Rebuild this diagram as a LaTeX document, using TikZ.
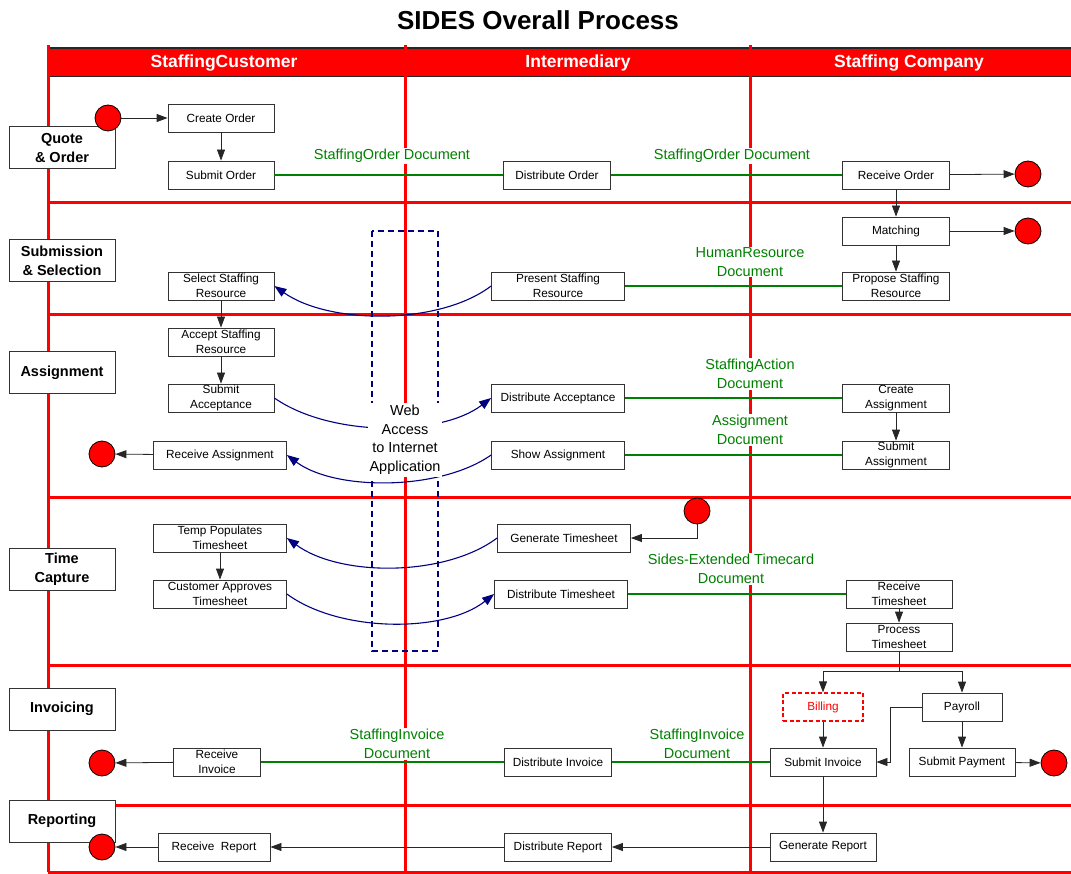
\documentclass[tikz,border=0pt]{standalone}
\usepackage{fontspec}
\setmainfont{Liberation Sans}
\usetikzlibrary{arrows.meta}

\definecolor{lanered}{RGB}{255,0,0}
\definecolor{docgreen}{RGB}{0,128,0}
\definecolor{webblue}{RGB}{0,0,128}

\tikzset{
  procbox/.style={rectangle,draw=black!80,fill=white,line width=0.8pt,align=center,
    inner sep=0pt,minimum height=28pt,minimum width=106pt,
    font=\fontsize{11.8}{14.5}\selectfont},
  wide/.style={minimum width=133pt},
  endpt/.style={circle,draw=black,fill=lanered,line width=0.8pt,minimum size=26pt,inner sep=0pt},
  phase/.style={rectangle,draw=black!80,fill=white,line width=1pt,align=center,
    minimum width=106pt,minimum height=42pt,inner sep=0pt,
    font=\fontsize{14.5}{18.5}\selectfont\bfseries},
  doclabel/.style={text=docgreen,fill=white,align=center,inner sep=1pt,
    font=\fontsize{14.5}{18.5}\selectfont}
}

\begin{document}
\begin{tikzpicture}[x=1pt,y=-1pt,>={Triangle[length=11pt,width=8pt]}]
\useasboundingbox (0,0) rectangle (1071,874);

% title, header band and lanes
\node (title) at (538,20) {\fontsize{26}{30}\selectfont\bfseries SIDES Overall Process};
\fill[lanered] (47,48) rectangle (1071,76);
\draw[line width=1.5pt,black!85] (47,48) -- (1071,48);
\draw[line width=0.8pt,black!85] (47,76) -- (1071,76);
\foreach \x in {48,405,750} \draw[lanered,line width=3pt] (\x,45) -- (\x,872);
\foreach \y in {203,315,497,665,805,872} \draw[lanered,line width=3pt] (48,\y) -- (1071,\y);

\begin{scope}[every node/.style={text=white,font=\fontsize{17.5}{20}\selectfont\bfseries}]
    \node (cust) at (224,63) {StaffingCustomer};
    \node (inter) at (578,63) {Intermediary};
    \node (comp) at (909,63) {Staffing Company};
\end{scope}

\draw[webblue,line width=1.3pt,dash pattern=on 6pt off 4pt] (372,231) rectangle (438,651);

% document labels
\begin{scope}[every node/.style={doclabel}]
    \node (lorder1) at (392,156) {StaffingOrder Document};
    \node (lorder2) at (732,156) {StaffingOrder Document};
    \node (lhr) at (750,262) {HumanResource\\Document};
    \node (laction) at (750,374) {StaffingAction\\Document};
    \node (lassign) at (750,430) {Assignment\\Document};
    \node (ltime) at (731,569) {Sides-Extended Timecard\\Document};
    \node (linv1) at (397,744) {StaffingInvoice\\Document};
    \node (linv2) at (697,744) {StaffingInvoice\\Document};
\end{scope}

% phases
\begin{scope}[every node/.style={phase}]
    \node (quote) at (62,148) {Quote\\\& Order};
    \node (subm) at (62,261) {Submission\\\& Selection};
    \node (asgn) at (62,373) {Assignment};
    \node (time) at (62,569) {Time\\Capture};
    \node (invc) at (62,709) {Invoicing};
    \node (rept) at (62,821) {Reporting};
\end{scope}

% activities
\begin{scope}[every node/.style={procbox}]
    \node (create) at (221,118) {Create Order};
    \node (submit) at (221,175) {Submit Order};
    \node (select) at (221,286) {Select Staffing\\Resource};
    \node (accept) at (221,342) {Accept Staffing\\Resource};
    \node (subacc) at (221,398) {Submit\\Acceptance};
    \node[wide] (recasg) at (220,455) {Receive Assignment};
    \node[wide] (temp) at (220,538) {Temp Populates\\Timesheet};
    \node[wide] (approve) at (220,594) {Customer Approves\\Timesheet};
    \node[minimum width=87pt] (recinv) at (217,762) {Receive\\Invoice};
    \node[minimum width=112pt] (recrep) at (214,847) {Receive~~Report};

    \node[minimum width=107pt] (distord) at (557,175) {Distribute Order};
    \node[wide] (present) at (558,286) {Present Staffing\\Resource};
    \node[wide] (distacc) at (558,398) {Distribute Acceptance};
    \node[wide] (showasg) at (558,455) {Show Assignment};
    \node[wide] (gents) at (564,538) {Generate Timesheet};
    \node[wide] (distts) at (561,594) {Distribute Timesheet};
    \node[minimum width=107pt] (distinv) at (558,762) {Distribute Invoice};
    \node[minimum width=107pt] (distrep) at (558,847) {Distribute Report};

    \node[minimum width=107pt] (record) at (896,175) {Receive Order};
    \node[minimum width=107pt] (match) at (896,231) {Matching};
    \node[minimum width=107pt] (propose) at (896,286) {Propose Staffing\\Resource};
    \node[minimum width=107pt] (crasg) at (896,398) {Create\\Assignment};
    \node[minimum width=107pt] (subasg) at (896,455) {Submit\\Assignment};
    \node (rects) at (899,594) {Receive\\Timesheet};
    \node (procts) at (899,637) {Process\\Timesheet};
    \node[minimum width=80pt,draw=lanered,text=lanered,line width=1.2pt,
          dash pattern=on 4pt off 2.5pt] (bill) at (823,707) {Billing};
    \node[minimum width=80pt] (pay) at (962,707) {Payroll};
    \node (subinv) at (823,762) {Submit Invoice};
    \node (subpay) at (962,762) {Submit Payment};
    \node (genrep) at (823,847) {Generate Report};
\end{scope}

% start and end points
\begin{scope}[every node/.style={endpt}]
    \node (s1) at (108,118) {};
    \node (e1) at (1028,174) {};
    \node (e2) at (1028,231) {};
    \node (e3) at (102,454) {};
    \node (s2) at (697,511) {};
    \node (e4) at (102,763) {};
    \node (e5) at (1054,763) {};
    \node (e6) at (102,847) {};
\end{scope}

% control flow
\begin{scope}[every edge/.style={draw=black!85,line width=0.8pt}]
    \path [->] (s1) edge (create);
    \path [->] (create) edge (submit);
    \path [->] (record) edge (e1);
    \path [->] (record) edge (match);
    \path [->] (match) edge (e2);
    \path [->] (match) edge (propose);
    \path [->] (select) edge (accept);
    \path [->] (accept) edge (subacc);
    \path [->] (crasg) edge (subasg);
    \path [->] (recasg) edge (e3);
    \path [->] (temp) edge (approve);
    \path [->] (rects) edge (procts);
    \path [->] (bill) edge (subinv);
    \path [->] (pay) edge (subpay);
    \path [->] (subpay) edge (e5);
    \path [->] (recinv) edge (e4);
    \path [->] (subinv) edge (genrep);
    \path [->] (genrep) edge (distrep);
    \path [->] (distrep) edge (recrep);
    \path [->] (recrep) edge (e6);
\end{scope}
\draw[->,black!85,line width=0.8pt] (s2.south) |- (gents.east);
\draw[->,black!85,line width=0.8pt] (procts.south) -- ++(0,20) -| (bill.north);
\draw[->,black!85,line width=0.8pt] (procts.south) -- ++(0,20) -| (pay.north);
\draw[->,black!85,line width=0.8pt] (pay.west) -- ++(-31,0) |- (subinv.east);

% documents exchanged
\begin{scope}[every edge/.style={draw=docgreen,line width=1.6pt}]
    \path (submit) edge (distord);
    \path (distord) edge (record);
    \path (present) edge (propose);
    \path (distacc) edge (crasg);
    \path (showasg) edge (subasg);
    \path (distts) edge (rects);
    \path (subinv) edge (distinv);
    \path (distinv) edge (recinv);
\end{scope}

% web access
\begin{scope}[webblue,line width=1.1pt,>={Triangle[length=12pt,width=9pt,fill=webblue]}]
    \draw[->] (present.west) .. controls (440,325) and (330,325) .. (select.east);
    \draw[->] (subacc.east) .. controls (330,437) and (440,437) .. (distacc.west);
    \draw[->] (showasg.west) .. controls (440,491) and (335,491) .. (recasg.east);
    \draw[->] (gents.west) .. controls (445,577) and (340,577) .. (temp.east);
    \draw[->] (approve.east) .. controls (340,633) and (445,633) .. (distts.west);
\end{scope}
\node[fill=white,align=center,inner sep=2pt,font=\fontsize{14.5}{18.5}\selectfont]
    (web) at (405,440) {Web\\Access\\to Internet\\Application};
\end{tikzpicture}
\end{document}
